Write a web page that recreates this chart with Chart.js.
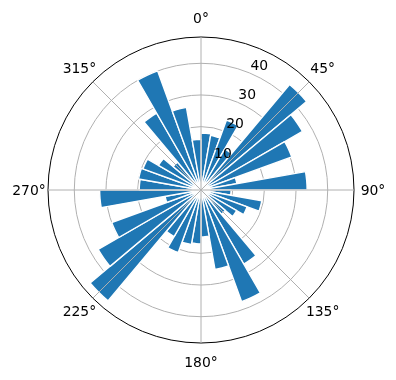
<!DOCTYPE html>
<html lang="en">
<head>
    <meta charset="UTF-8">
    <title>Polar bar chart</title>
    <script src="https://cdn.jsdelivr.net/npm/chart.js@4.4.1/dist/chart.umd.min.js"></script>
    <style>
        body { margin: 0; background: #fff; }
        #wrap { width: 396px; height: 380px; }
    </style>
</head>
<body>
    <div id="wrap"><canvas id="rose" width="396" height="380"></canvas></div>

    <script>
        // bar directions (centre of each 10 degree bin, clockwise from north)
        const directions = [5, 15, 25, 35, 45, 55, 65, 75, 85,
                            95, 105, 115, 125, 135, 145, 155, 165, 175,
                            185, 195, 205, 215, 225, 235, 245, 255, 265,
                            275, 285, 295, 305, 315, 325, 335, 345, 355];
        const counts = [18, 17.5, 23.5, 15, 43.5, 37, 30.5, 11.5, 33.5,
                        9.5, 19.5, 15.5, 13, 10, 27, 37.5, 25.5, 14.8,
                        17, 17.5, 21, 17, 45.7, 37.5, 30, 11.5, 32,
                        19.5, 20, 19.5, 15.5, 11.5, 28, 40, 26.5, 16];
        const radialTicks = [10, 20, 30, 40];
        const angleTicks = [0, 45, 90, 135, 180, 225, 270, 315];
        const R_MAX = 48.3;

        const FONT = '13.9px "DejaVu Sans", sans-serif';
        const GRID = '#b0b0b0';

        // angle grid lines, degree labels and radial tick labels (matplotlib style)
        const polarDecor = {
            id: 'polarDecor',
            afterDatasetsDraw(chart) {
                const r = chart.scales.r;
                const ctx = chart.ctx;
                const rad = r.getDistanceFromCenterForValue(R_MAX);
                ctx.save();
                ctx.strokeStyle = GRID;
                ctx.lineWidth = 1;
                angleTicks.forEach(a => {
                    const t = a * Math.PI / 180;
                    ctx.beginPath();
                    ctx.moveTo(r.xCenter, r.yCenter);
                    ctx.lineTo(r.xCenter + rad * Math.sin(t), r.yCenter - rad * Math.cos(t));
                    ctx.stroke();
                });
                ctx.restore();
            },
            afterDraw(chart) {
                const r = chart.scales.r;
                const ctx = chart.ctx;
                ctx.save();
                ctx.fillStyle = '#000';
                ctx.font = FONT;

                ctx.textAlign = 'center';
                ctx.textBaseline = 'middle';
                angleTicks.forEach(a => {
                    const t = a * Math.PI / 180;
                    const d = 172;
                    ctx.fillText(a + '°', r.xCenter + d * Math.sin(t), r.yCenter - d * Math.cos(t) + 1);
                });

                ctx.textAlign = 'left';
                ctx.textBaseline = 'alphabetic';
                const lt = 22.5 * Math.PI / 180;
                radialTicks.forEach(v => {
                    const d = r.getDistanceFromCenterForValue(v);
                    const x = r.xCenter + d * Math.sin(lt);
                    const y = r.yCenter - d * Math.cos(lt);
                    ctx.fillText(String(v), x + 1, y - 3);
                });
                ctx.restore();
            }
        };

        new Chart(document.getElementById('rose'), {
            type: 'polarArea',
            data: {
                labels: directions.map(d => d + '°'),
                datasets: [{
                    data: counts,
                    backgroundColor: '#1f77b4',
                    borderColor: '#ffffff',
                    borderWidth: 1.4
                }]
            },
            options: {
                responsive: false,
                animation: false,
                events: [],
                layout: { padding: { left: 48, right: 42, top: 37, bottom: 37 } },
                plugins: {
                    legend: { display: false },
                    tooltip: { enabled: false }
                },
                scales: {
                    r: {
                        z: 1,
                        min: 0,
                        max: R_MAX,
                        startAngle: 0,
                        afterBuildTicks(scale) {
                            scale.ticks = [0, ...radialTicks, R_MAX].map(v => ({ value: v }));
                        },
                        ticks: { display: false },
                        pointLabels: { display: false },
                        angleLines: { display: false },
                        grid: {
                            circular: true,
                            lineWidth: 1,
                            color: c => (c.tick && c.tick.value >= R_MAX - 1e-6) ? '#000000' : GRID
                        }
                    }
                }
            },
            plugins: [polarDecor]
        });
    </script>
</body>
</html>
